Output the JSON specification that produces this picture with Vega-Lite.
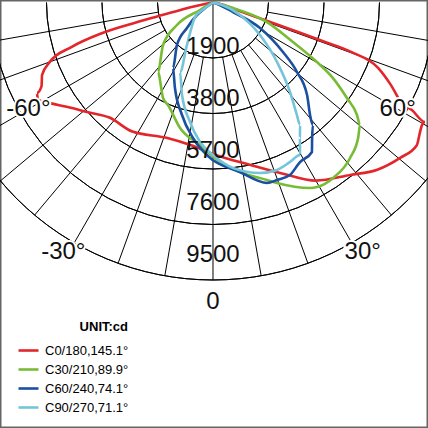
{
  "$schema": "https://vega.github.io/schema/vega-lite/v6.json",
  "width": 428,
  "height": 428,
  "padding": 0,
  "autosize": {"type": "none"},
  "background": "white",
  "config": {"view": {"stroke": "#666666", "strokeWidth": 3}, "font": "Liberation Sans"},
  "datasets": {
    "rings": [{"value": 1900}, {"value": 3800}, {"value": 5700}, {"value": 7600}, {"value": 9500}],
    "spokes": [
      {"angle": -80}, {"angle": -70}, {"angle": -60}, {"angle": -50}, {"angle": -40}, {"angle": -30}, {"angle": -20}, {"angle": -10},
      {"angle": 0}, {"angle": 10}, {"angle": 20}, {"angle": 30}, {"angle": 40}, {"angle": 50}, {"angle": 60}, {"angle": 70}, {"angle": 80}
    ],
    "angleLabels": [
      {"label": "-60°", "angle": -60}, {"label": "60°", "angle": 60},
      {"label": "-30°", "angle": -30}, {"label": "30°", "angle": 30},
      {"label": "0", "angle": 0}
    ],
    "curves": [
      {"series": "C0/180,145.1°", "angle": -90, "cd": 0},
      {"series": "C0/180,145.1°", "angle": -80, "cd": 200},
      {"series": "C0/180,145.1°", "angle": -77, "cd": 1200},
      {"series": "C0/180,145.1°", "angle": -76, "cd": 2000},
      {"series": "C0/180,145.1°", "angle": -75.3, "cd": 3000},
      {"series": "C0/180,145.1°", "angle": -74.5, "cd": 4000},
      {"series": "C0/180,145.1°", "angle": -72.5, "cd": 5100},
      {"series": "C0/180,145.1°", "angle": -70, "cd": 5940},
      {"series": "C0/180,145.1°", "angle": -67, "cd": 6358},
      {"series": "C0/180,145.1°", "angle": -64, "cd": 6530},
      {"series": "C0/180,145.1°", "angle": -62.8, "cd": 6775},
      {"series": "C0/180,145.1°", "angle": -61, "cd": 6858},
      {"series": "C0/180,145.1°", "angle": -58.3, "cd": 6556},
      {"series": "C0/180,145.1°", "angle": -54, "cd": 6100},
      {"series": "C0/180,145.1°", "angle": -49, "cd": 5715},
      {"series": "C0/180,145.1°", "angle": -42, "cd": 5298},
      {"series": "C0/180,145.1°", "angle": -32, "cd": 5211},
      {"series": "C0/180,145.1°", "angle": -19, "cd": 4899},
      {"series": "C0/180,145.1°", "angle": -9, "cd": 4941},
      {"series": "C0/180,145.1°", "angle": 1, "cd": 5221},
      {"series": "C0/180,145.1°", "angle": 13, "cd": 5706},
      {"series": "C0/180,145.1°", "angle": 22, "cd": 6310},
      {"series": "C0/180,145.1°", "angle": 30, "cd": 7043},
      {"series": "C0/180,145.1°", "angle": 38.5, "cd": 7542},
      {"series": "C0/180,145.1°", "angle": 44.5, "cd": 8025},
      {"series": "C0/180,145.1°", "angle": 50.3, "cd": 8326},
      {"series": "C0/180,145.1°", "angle": 55, "cd": 8518},
      {"series": "C0/180,145.1°", "angle": 58, "cd": 8360},
      {"series": "C0/180,145.1°", "angle": 59.6, "cd": 8294},
      {"series": "C0/180,145.1°", "angle": 60.6, "cd": 8330},
      {"series": "C0/180,145.1°", "angle": 61.6, "cd": 7740},
      {"series": "C0/180,145.1°", "angle": 62.1, "cd": 7282},
      {"series": "C0/180,145.1°", "angle": 65.1, "cd": 6717},
      {"series": "C0/180,145.1°", "angle": 68.4, "cd": 6077},
      {"series": "C0/180,145.1°", "angle": 70.3, "cd": 5019},
      {"series": "C0/180,145.1°", "angle": 70.6, "cd": 3900},
      {"series": "C0/180,145.1°", "angle": 70.8, "cd": 3156},
      {"series": "C0/180,145.1°", "angle": 71.2, "cd": 1965},
      {"series": "C0/180,145.1°", "angle": 72.5, "cd": 900},
      {"series": "C0/180,145.1°", "angle": 80, "cd": 200},
      {"series": "C0/180,145.1°", "angle": 90, "cd": 0},

      {"series": "C30/210,89.9°", "angle": -90, "cd": 0},
      {"series": "C30/210,89.9°", "angle": -62, "cd": 200},
      {"series": "C30/210,89.9°", "angle": -60, "cd": 514},
      {"series": "C30/210,89.9°", "angle": -58, "cd": 1454},
      {"series": "C30/210,89.9°", "angle": -49.6, "cd": 2246},
      {"series": "C30/210,89.9°", "angle": -38.4, "cd": 3035},
      {"series": "C30/210,89.9°", "angle": -27.6, "cd": 3690},
      {"series": "C30/210,89.9°", "angle": -23.7, "cd": 3832},
      {"series": "C30/210,89.9°", "angle": -14.7, "cd": 4443},
      {"series": "C30/210,89.9°", "angle": -5.2, "cd": 4899},
      {"series": "C30/210,89.9°", "angle": 0.7, "cd": 5324},
      {"series": "C30/210,89.9°", "angle": 9, "cd": 5876},
      {"series": "C30/210,89.9°", "angle": 16.9, "cd": 6352},
      {"series": "C30/210,89.9°", "angle": 19.5, "cd": 6556},
      {"series": "C30/210,89.9°", "angle": 27.6, "cd": 7166},
      {"series": "C30/210,89.9°", "angle": 29.4, "cd": 7251},
      {"series": "C30/210,89.9°", "angle": 34.4, "cd": 7278},
      {"series": "C30/210,89.9°", "angle": 41.4, "cd": 7095},
      {"series": "C30/210,89.9°", "angle": 47, "cd": 6795},
      {"series": "C30/210,89.9°", "angle": 50.2, "cd": 6552},
      {"series": "C30/210,89.9°", "angle": 52, "cd": 6256},
      {"series": "C30/210,89.9°", "angle": 54.5, "cd": 5633},
      {"series": "C30/210,89.9°", "angle": 57.8, "cd": 4854},
      {"series": "C30/210,89.9°", "angle": 60.2, "cd": 4102},
      {"series": "C30/210,89.9°", "angle": 63.7, "cd": 3054},
      {"series": "C30/210,89.9°", "angle": 70.1, "cd": 1965},
      {"series": "C30/210,89.9°", "angle": 74.6, "cd": 710},
      {"series": "C30/210,89.9°", "angle": 90, "cd": 0},

      {"series": "C60/240,74.1°", "angle": -90, "cd": 0},
      {"series": "C60/240,74.1°", "angle": -55, "cd": 300},
      {"series": "C60/240,74.1°", "angle": -52, "cd": 695},
      {"series": "C60/240,74.1°", "angle": -45.6, "cd": 1247},
      {"series": "C60/240,74.1°", "angle": -40.3, "cd": 1907},
      {"series": "C60/240,74.1°", "angle": -31.4, "cd": 2627},
      {"series": "C60/240,74.1°", "angle": -24, "cd": 3203},
      {"series": "C60/240,74.1°", "angle": -15.4, "cd": 3995},
      {"series": "C60/240,74.1°", "angle": -8.4, "cd": 4690},
      {"series": "C60/240,74.1°", "angle": -2.3, "cd": 5225},
      {"series": "C60/240,74.1°", "angle": 9, "cd": 5876},
      {"series": "C60/240,74.1°", "angle": 16.7, "cd": 6450},
      {"series": "C60/240,74.1°", "angle": 19.8, "cd": 6460},
      {"series": "C60/240,74.1°", "angle": 24, "cd": 6467},
      {"series": "C60/240,74.1°", "angle": 28.6, "cd": 6220},
      {"series": "C60/240,74.1°", "angle": 33.5, "cd": 6138},
      {"series": "C60/240,74.1°", "angle": 36.2, "cd": 5745},
      {"series": "C60/240,74.1°", "angle": 39.2, "cd": 5413},
      {"series": "C60/240,74.1°", "angle": 40.8, "cd": 5085},
      {"series": "C60/240,74.1°", "angle": 45.5, "cd": 4515},
      {"series": "C60/240,74.1°", "angle": 50.4, "cd": 3732},
      {"series": "C60/240,74.1°", "angle": 54.7, "cd": 2935},
      {"series": "C60/240,74.1°", "angle": 61.5, "cd": 1831},
      {"series": "C60/240,74.1°", "angle": 64.6, "cd": 758},
      {"series": "C60/240,74.1°", "angle": 70, "cd": 200},
      {"series": "C60/240,74.1°", "angle": 90, "cd": 0},

      {"series": "C90/270,71.1°", "angle": -90, "cd": 0},
      {"series": "C90/270,71.1°", "angle": -55, "cd": 400},
      {"series": "C90/270,71.1°", "angle": -51, "cd": 791},
      {"series": "C90/270,71.1°", "angle": -31.5, "cd": 1705},
      {"series": "C90/270,71.1°", "angle": -25.4, "cd": 2633},
      {"series": "C90/270,71.1°", "angle": -18.5, "cd": 3341},
      {"series": "C90/270,71.1°", "angle": -10.9, "cd": 4166},
      {"series": "C90/270,71.1°", "angle": -5.3, "cd": 4796},
      {"series": "C90/270,71.1°", "angle": 0, "cd": 5221},
      {"series": "C90/270,71.1°", "angle": 6.9, "cd": 5707},
      {"series": "C90/270,71.1°", "angle": 15.4, "cd": 6056},
      {"series": "C90/270,71.1°", "angle": 20.9, "cd": 6138},
      {"series": "C90/270,71.1°", "angle": 25.8, "cd": 6063},
      {"series": "C90/270,71.1°", "angle": 29.7, "cd": 6012},
      {"series": "C90/270,71.1°", "angle": 32.7, "cd": 5512},
      {"series": "C90/270,71.1°", "angle": 35.4, "cd": 5143},
      {"series": "C90/270,71.1°", "angle": 36.7, "cd": 4807},
      {"series": "C90/270,71.1°", "angle": 40.7, "cd": 4043},
      {"series": "C90/270,71.1°", "angle": 47.1, "cd": 2992},
      {"series": "C90/270,71.1°", "angle": 55.3, "cd": 1955},
      {"series": "C90/270,71.1°", "angle": 65.2, "cd": 1020},
      {"series": "C90/270,71.1°", "angle": 75, "cd": 300},
      {"series": "C90/270,71.1°", "angle": 90, "cd": 0}
    ]
  },
  "layer": [
    {
      "data": {"name": "rings"},
      "mark": {"type": "arc", "theta": 1.5707963, "theta2": 4.712389, "fill": null, "stroke": "black", "strokeWidth": 1},
      "encoding": {
        "x": {"datum": 0, "type": "quantitative", "scale": {"domain": [-7291.9, 7360.4], "nice": false, "zero": false}, "axis": null},
        "y": {"datum": 0, "type": "quantitative", "scale": {"domain": [-14566.6, 85.6], "nice": false, "zero": false}, "axis": null},
        "radius": {"field": "value", "type": "quantitative", "scale": {"type": "linear", "domain": [0, 9500], "range": [0, 277.5], "zero": true}},
        "radius2": {"field": "value"}
      }
    },
    {
      "data": {"name": "spokes"},
      "transform": [
        {"calculate": "datum.angle == 0 ? 0 : 1900", "as": "r0"},
        {"calculate": "datum.r0 * sin(datum.angle * PI / 180)", "as": "x1"},
        {"calculate": "-datum.r0 * cos(datum.angle * PI / 180)", "as": "y1"},
        {"calculate": "9500 * sin(datum.angle * PI / 180)", "as": "x2"},
        {"calculate": "-9500 * cos(datum.angle * PI / 180)", "as": "y2"}
      ],
      "mark": {"type": "rule", "color": "black", "strokeWidth": 1},
      "encoding": {
        "x": {"field": "x1", "type": "quantitative"},
        "y": {"field": "y1", "type": "quantitative"},
        "x2": {"field": "x2"},
        "y2": {"field": "y2"}
      }
    },
    {
      "data": {"name": "curves"},
      "transform": [
        {"calculate": "datum.cd * sin(datum.angle * PI / 180)", "as": "px"},
        {"calculate": "-datum.cd * cos(datum.angle * PI / 180)", "as": "py"}
      ],
      "mark": {"type": "line", "strokeWidth": 2.6, "clip": true, "interpolate": "monotone"},
      "encoding": {
        "x": {"field": "px", "type": "quantitative"},
        "y": {"field": "py", "type": "quantitative"},
        "order": {"field": "angle", "type": "quantitative"},
        "color": {
          "field": "series", "type": "nominal",
          "scale": {"domain": ["C0/180,145.1°", "C30/210,89.9°", "C60/240,74.1°", "C90/270,71.1°"], "range": ["#e3262b", "#78bb34", "#1b4f9f", "#74c5da"]},
          "legend": {
            "title": "UNIT:cd", "orient": "none", "legendX": 17, "legendY": 321,
            "symbolType": "stroke", "symbolSize": 400, "symbolStrokeWidth": 2.6,
            "labelFont": "Liberation Sans", "labelFontSize": 13, "labelColor": "black", "labelOffset": 5,
            "titleFont": "Liberation Sans", "titleFontSize": 13, "titleFontWeight": "bold", "titleColor": "black",
            "titleAnchor": "end", "titlePadding": 5, "rowPadding": -2
          }
        }
      }
    },
    {
      "data": {"name": "rings"},
      "transform": [{"calculate": "-0.935 * datum.value", "as": "ly"}],
      "mark": {"type": "text", "font": "Liberation Sans", "fontSize": 24, "align": "center", "baseline": "alphabetic", "fill": "#111111"},
      "encoding": {
        "x": {"datum": 0, "type": "quantitative"},
        "y": {"field": "ly", "type": "quantitative"},
        "text": {"field": "value", "type": "nominal"}
      }
    },
    {
      "data": {"name": "angleLabels"},
      "transform": [
        {"calculate": "abs(datum.angle) == 60 ? 7300 : (datum.angle == 0 ? 10250 : 9950)", "as": "lr"},
        {"calculate": "abs(datum.angle) == 30 ? datum.angle * 31 / 30 : datum.angle", "as": "la"},
        {"calculate": "datum.lr * sin(datum.la * PI / 180)", "as": "lx"},
        {"calculate": "-datum.lr * cos(datum.la * PI / 180)", "as": "ly"}
      ],
      "layer": [
        {
          "mark": {"type": "text", "font": "Liberation Sans", "fontSize": 24, "align": "center", "baseline": "middle", "fill": "white", "stroke": "white", "strokeWidth": 4},
          "encoding": {
            "x": {"field": "lx", "type": "quantitative"},
            "y": {"field": "ly", "type": "quantitative"},
            "text": {"field": "label", "type": "nominal"}
          }
        },
        {
          "mark": {"type": "text", "font": "Liberation Sans", "fontSize": 24, "align": "center", "baseline": "middle", "fill": "#111111"},
          "encoding": {
            "x": {"field": "lx", "type": "quantitative"},
            "y": {"field": "ly", "type": "quantitative"},
            "text": {"field": "label", "type": "nominal"}
          }
        }
      ]
    }
  ]
}
